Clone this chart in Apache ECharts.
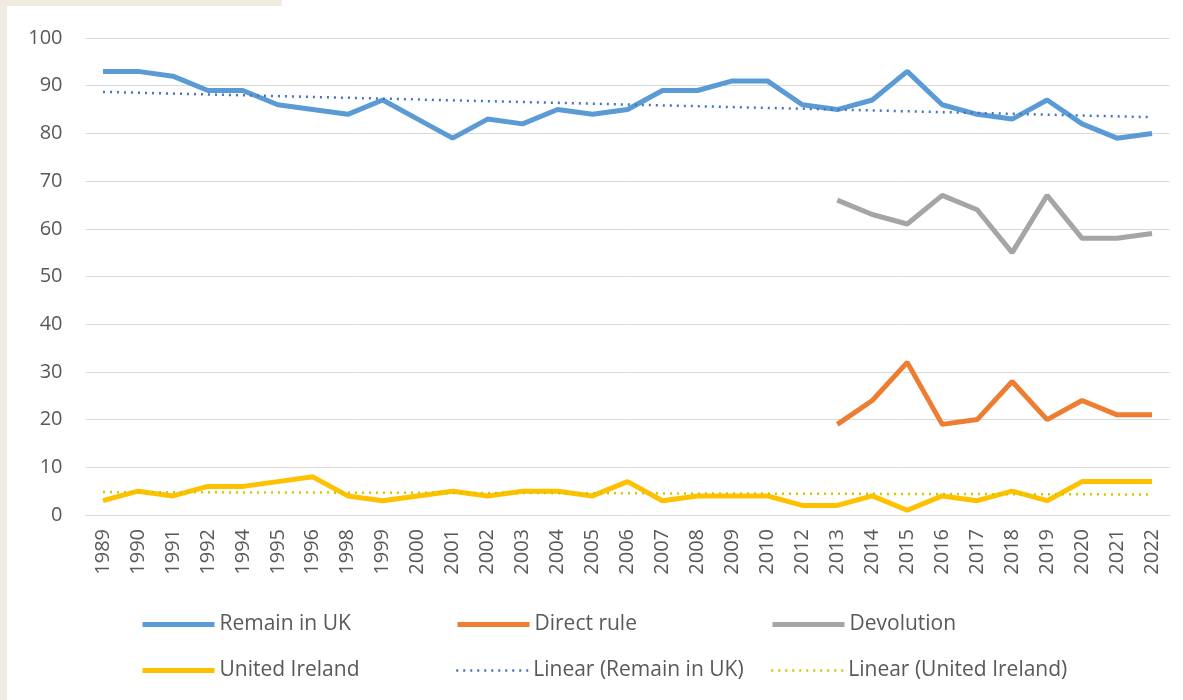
<!DOCTYPE html>
<html>
<head>
<meta charset="utf-8">
<script src="https://cdn.jsdelivr.net/npm/echarts@6/dist/echarts.min.js"></script>
<style>
  html, body { margin: 0; padding: 0; background: #fff; }
  #chart { width: 1183px; height: 700px; }
</style>
</head>
<body>
<div id="chart"></div>
<script>
// survey years (1993, 1997, 2011 missing in the source)
const years = ['1989','1990','1991','1992','1994','1995','1996','1998','1999','2000',
  '2001','2002','2003','2004','2005','2006','2007','2008','2009','2010',
  '2012','2013','2014','2015','2016','2017','2018','2019','2020','2021','2022'];

const remainInUK = [93,93,92,89,89,86,85,84,87,83,79,83,82,85,84,85,89,89,91,91,
  86,85,87,93,86,84,83,87,82,79,80];
const directRule = [null,null,null,null,null,null,null,null,null,null,null,null,null,null,null,null,null,null,null,null,
  null,19,24,32,19,20,28,20,24,21,21];
const devolution = [null,null,null,null,null,null,null,null,null,null,null,null,null,null,null,null,null,null,null,null,
  null,66,63,61,67,64,55,67,58,58,59];
const unitedIreland = [3,5,4,6,6,7,8,4,3,4,5,4,5,5,4,7,3,4,4,4,
  2,2,4,1,4,3,5,3,7,7,7];

// trend line end points
const trendRemain = [88.7, 83.4];
const trendIreland = [4.8, 4.3];

const yTicks = [0, 100, 10];

function ends(pair) {
  const arr = years.map(() => null);
  arr[0] = pair[0];
  arr[arr.length - 1] = pair[1];
  return arr;
}

const textColor = '#595959';
const font = 'Open Sans';

const names = ['Remain in UK', 'Direct rule', 'Devolution',
  'United Ireland', 'Linear (Remain in UK)', 'Linear (United Ireland)'];
const colors = ['#5b9bd5', '#ed7d31', '#a5a5a5', '#ffc000', '#4472c4', '#c8cc00'];
const legendPos = [[140, 614], [455, 614], [770, 614], [140, 660], [455, 660], [770, 660]];

let myChart = echarts.init(document.getElementById('chart'));
myChart.setOption({
  animation: false,
  backgroundColor: '#fff',
  graphic: [
    { type: 'rect', left: 0, top: 0, shape: { width: 7, height: 700 }, style: { fill: '#efebe1' } },
    { type: 'rect', left: 0, top: 0, shape: { width: 282, height: 6 }, style: { fill: '#efebe1' } }
  ],
  legend: names.map((n, i) => ({
    data: [n],
    left: legendPos[i][0],
    top: legendPos[i][1],
    padding: 0,
    itemWidth: 72,
    itemHeight: 5,
    itemGap: 6,
    itemStyle: { opacity: 0 },
    lineStyle: { width: i < 4 ? 5 : 2.5, color: colors[i], type: i < 4 ? 'solid' : [2, 5] },
    textStyle: { color: textColor, fontSize: 21, fontFamily: font }
  })),
  grid: { left: 85.5, right: 13.5, top: 38, bottom: 185 },
  xAxis: {
    type: 'category',
    data: years,
    boundaryGap: true,
    axisLine: { show: true, lineStyle: { color: '#d9d9d9' } },
    axisTick: { show: false },
    axisLabel: { rotate: 90, color: textColor, fontSize: 20, fontFamily: font, margin: 14, interval: 0 }
  },
  yAxis: {
    type: 'value',
    min: yTicks[0],
    max: yTicks[1],
    interval: yTicks[2],
    axisLine: { show: false },
    axisTick: { show: false },
    axisLabel: { color: textColor, fontSize: 20, fontFamily: font, margin: 23 },
    splitLine: { lineStyle: { color: '#d9d9d9', width: 1 } }
  },
  series: [
    { name: names[0], type: 'line', data: remainInUK, symbol: 'none', lineStyle: { color: colors[0], width: 5 }, itemStyle: { color: colors[0] } },
    { name: names[1], type: 'line', data: directRule, symbol: 'none', lineStyle: { color: colors[1], width: 5 }, itemStyle: { color: colors[1] } },
    { name: names[2], type: 'line', data: devolution, symbol: 'none', lineStyle: { color: colors[2], width: 5 }, itemStyle: { color: colors[2] } },
    { name: names[3], type: 'line', data: unitedIreland, symbol: 'none', lineStyle: { color: colors[3], width: 5 }, itemStyle: { color: colors[3] } },
    { name: names[4], type: 'line', data: ends(trendRemain), connectNulls: true, symbol: 'none', z: 3,
      lineStyle: { color: colors[4], width: 2.5, type: [2, 5] }, itemStyle: { color: colors[4] } },
    { name: names[5], type: 'line', data: ends(trendIreland), connectNulls: true, symbol: 'none', z: 3,
      lineStyle: { color: colors[5], width: 2.5, type: [2, 5] }, itemStyle: { color: colors[5] } }
  ]
});
</script>
</body>
</html>
